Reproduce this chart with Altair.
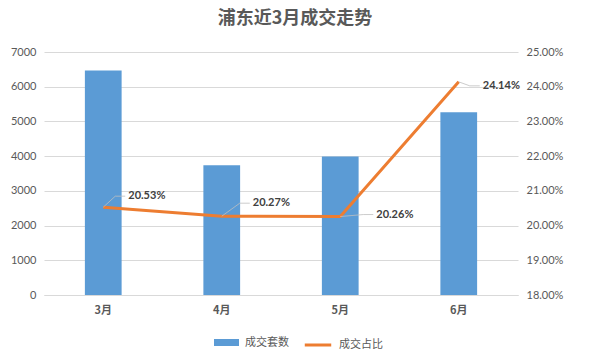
import altair as alt
import pandas as pd

months = ["3月", "4月", "5月", "6月"]
deals = [6470, 3740, 3990, 5265]
rates = [0.2053, 0.2027, 0.2026, 0.2414]
rate_labels = ["20.53%", "20.27%", "20.26%", "24.14%"]

# per-label styling offsets (pixels)
label_dx = [25, 31, 36, 24]
label_dy = [-11, -13, -2, 4]

df = pd.DataFrame({"月份": months, "成交套数": deals, "成交占比": rates, "label": rate_labels,
                   "s1": ["成交套数"] * 4, "s2": ["成交占比"] * 4})

FONT = "Lato, Noto Sans CJK SC"
CJK = "Noto Sans CJK SC"

x = alt.X("月份:N", sort=months, title=None,
          scale=alt.Scale(paddingInner=0.69, paddingOuter=0.345),
          axis=alt.Axis(labelAngle=0, labelFont=CJK, labelFontWeight="bold", labelFontSize=11,
                        labelColor="#595959", domainColor="#D9D9D9", ticks=False, labelPadding=9))

bars = alt.Chart(df).mark_bar(color="#5B9BD5").encode(
    x=x,
    y=alt.Y("成交套数:Q", title=None,
            scale=alt.Scale(domain=[0, 7000], nice=False),
            axis=alt.Axis(values=list(range(0, 7001, 1000)), format="d", labelColor="#595959",
                          labelFont=FONT, labelFontSize=11, domain=False, ticks=False,
                          gridColor="#D9D9D9", labelPadding=8)),
    color=alt.Color("s1:N", scale=alt.Scale(domain=["成交套数"], range=["#5B9BD5"]),
                    legend=alt.Legend(title=None, orient="none", legendX=170, legendY=278,
                                      symbolType="M-1,-0.28H1V0.28H-1Z", symbolSize=625,
                                      symbolStrokeWidth=0, labelFont=CJK, labelFontSize=11,
                                      labelColor="#595959", labelOffset=6, padding=0)),
)

ry = alt.Y("成交占比:Q", title=None,
           scale=alt.Scale(domain=[0.18, 0.25], nice=False),
           axis=alt.Axis(orient="right", format=".2%", values=[0.18, 0.19, 0.20, 0.21, 0.22, 0.23, 0.24, 0.25],
                         labelColor="#595959", labelFont=FONT, labelFontSize=11, domain=False,
                         ticks=False, grid=False, labelPadding=8))

line = alt.Chart(df).mark_line(strokeWidth=3).encode(
    x=x, y=ry,
    color=alt.Color("s2:N", scale=alt.Scale(domain=["成交占比"], range=["#ED7D31"]),
                    legend=alt.Legend(title=None, orient="none", legendX=259, legendY=278,
                                      symbolType="stroke", symbolSize=700, symbolStrokeWidth=3,
                                      labelFont=CJK, labelFontSize=11, labelColor="#595959",
                                      labelOffset=6, padding=0)),
)

layers_rate = [line]
for i, m in enumerate(months):
    base = alt.Chart(df).transform_filter(alt.datum["月份"] == m)
    lead1 = base.mark_rule(color="#BFBFBF", strokeWidth=0.8,
                           x2Offset=label_dx[i] - 13, y2Offset=label_dy[i]).encode(
        x=x, y=ry, x2="月份:N", y2="成交占比:Q")
    lead2 = base.mark_rule(color="#BFBFBF", strokeWidth=0.8,
                           xOffset=label_dx[i] - 13, yOffset=label_dy[i],
                           x2Offset=label_dx[i] - 3, y2Offset=label_dy[i]).encode(
        x=x, y=ry, x2="月份:N", y2="成交占比:Q")
    txt = base.mark_text(align="left", baseline="middle", dx=label_dx[i], dy=label_dy[i],
                         font=FONT, fontSize=11, fontWeight="bold", color="#404040").encode(
        x=x, y=ry, text="label:N")
    layers_rate += [lead1, lead2, txt]

rate_layer = alt.layer(*layers_rate)

chart = alt.layer(bars, rate_layer).resolve_scale(y="independent", color="independent").properties(
    width=474, height=243,
    autosize=alt.AutoSizeParams(type="none"),
    padding={"left": 44, "top": 52, "right": 73, "bottom": 59},
    title=alt.Title("浦东近3月成交走势", font=CJK, fontSize=18, fontWeight="bold",
                    color="#595959", anchor="middle", dx=14, offset=18),
).configure(background="white").configure_view(strokeWidth=0, stroke="transparent").configure_axisY(
    domain=False, ticks=False
)

chart.save("out.html", embed_options={"renderer": "svg", "actions": False})
